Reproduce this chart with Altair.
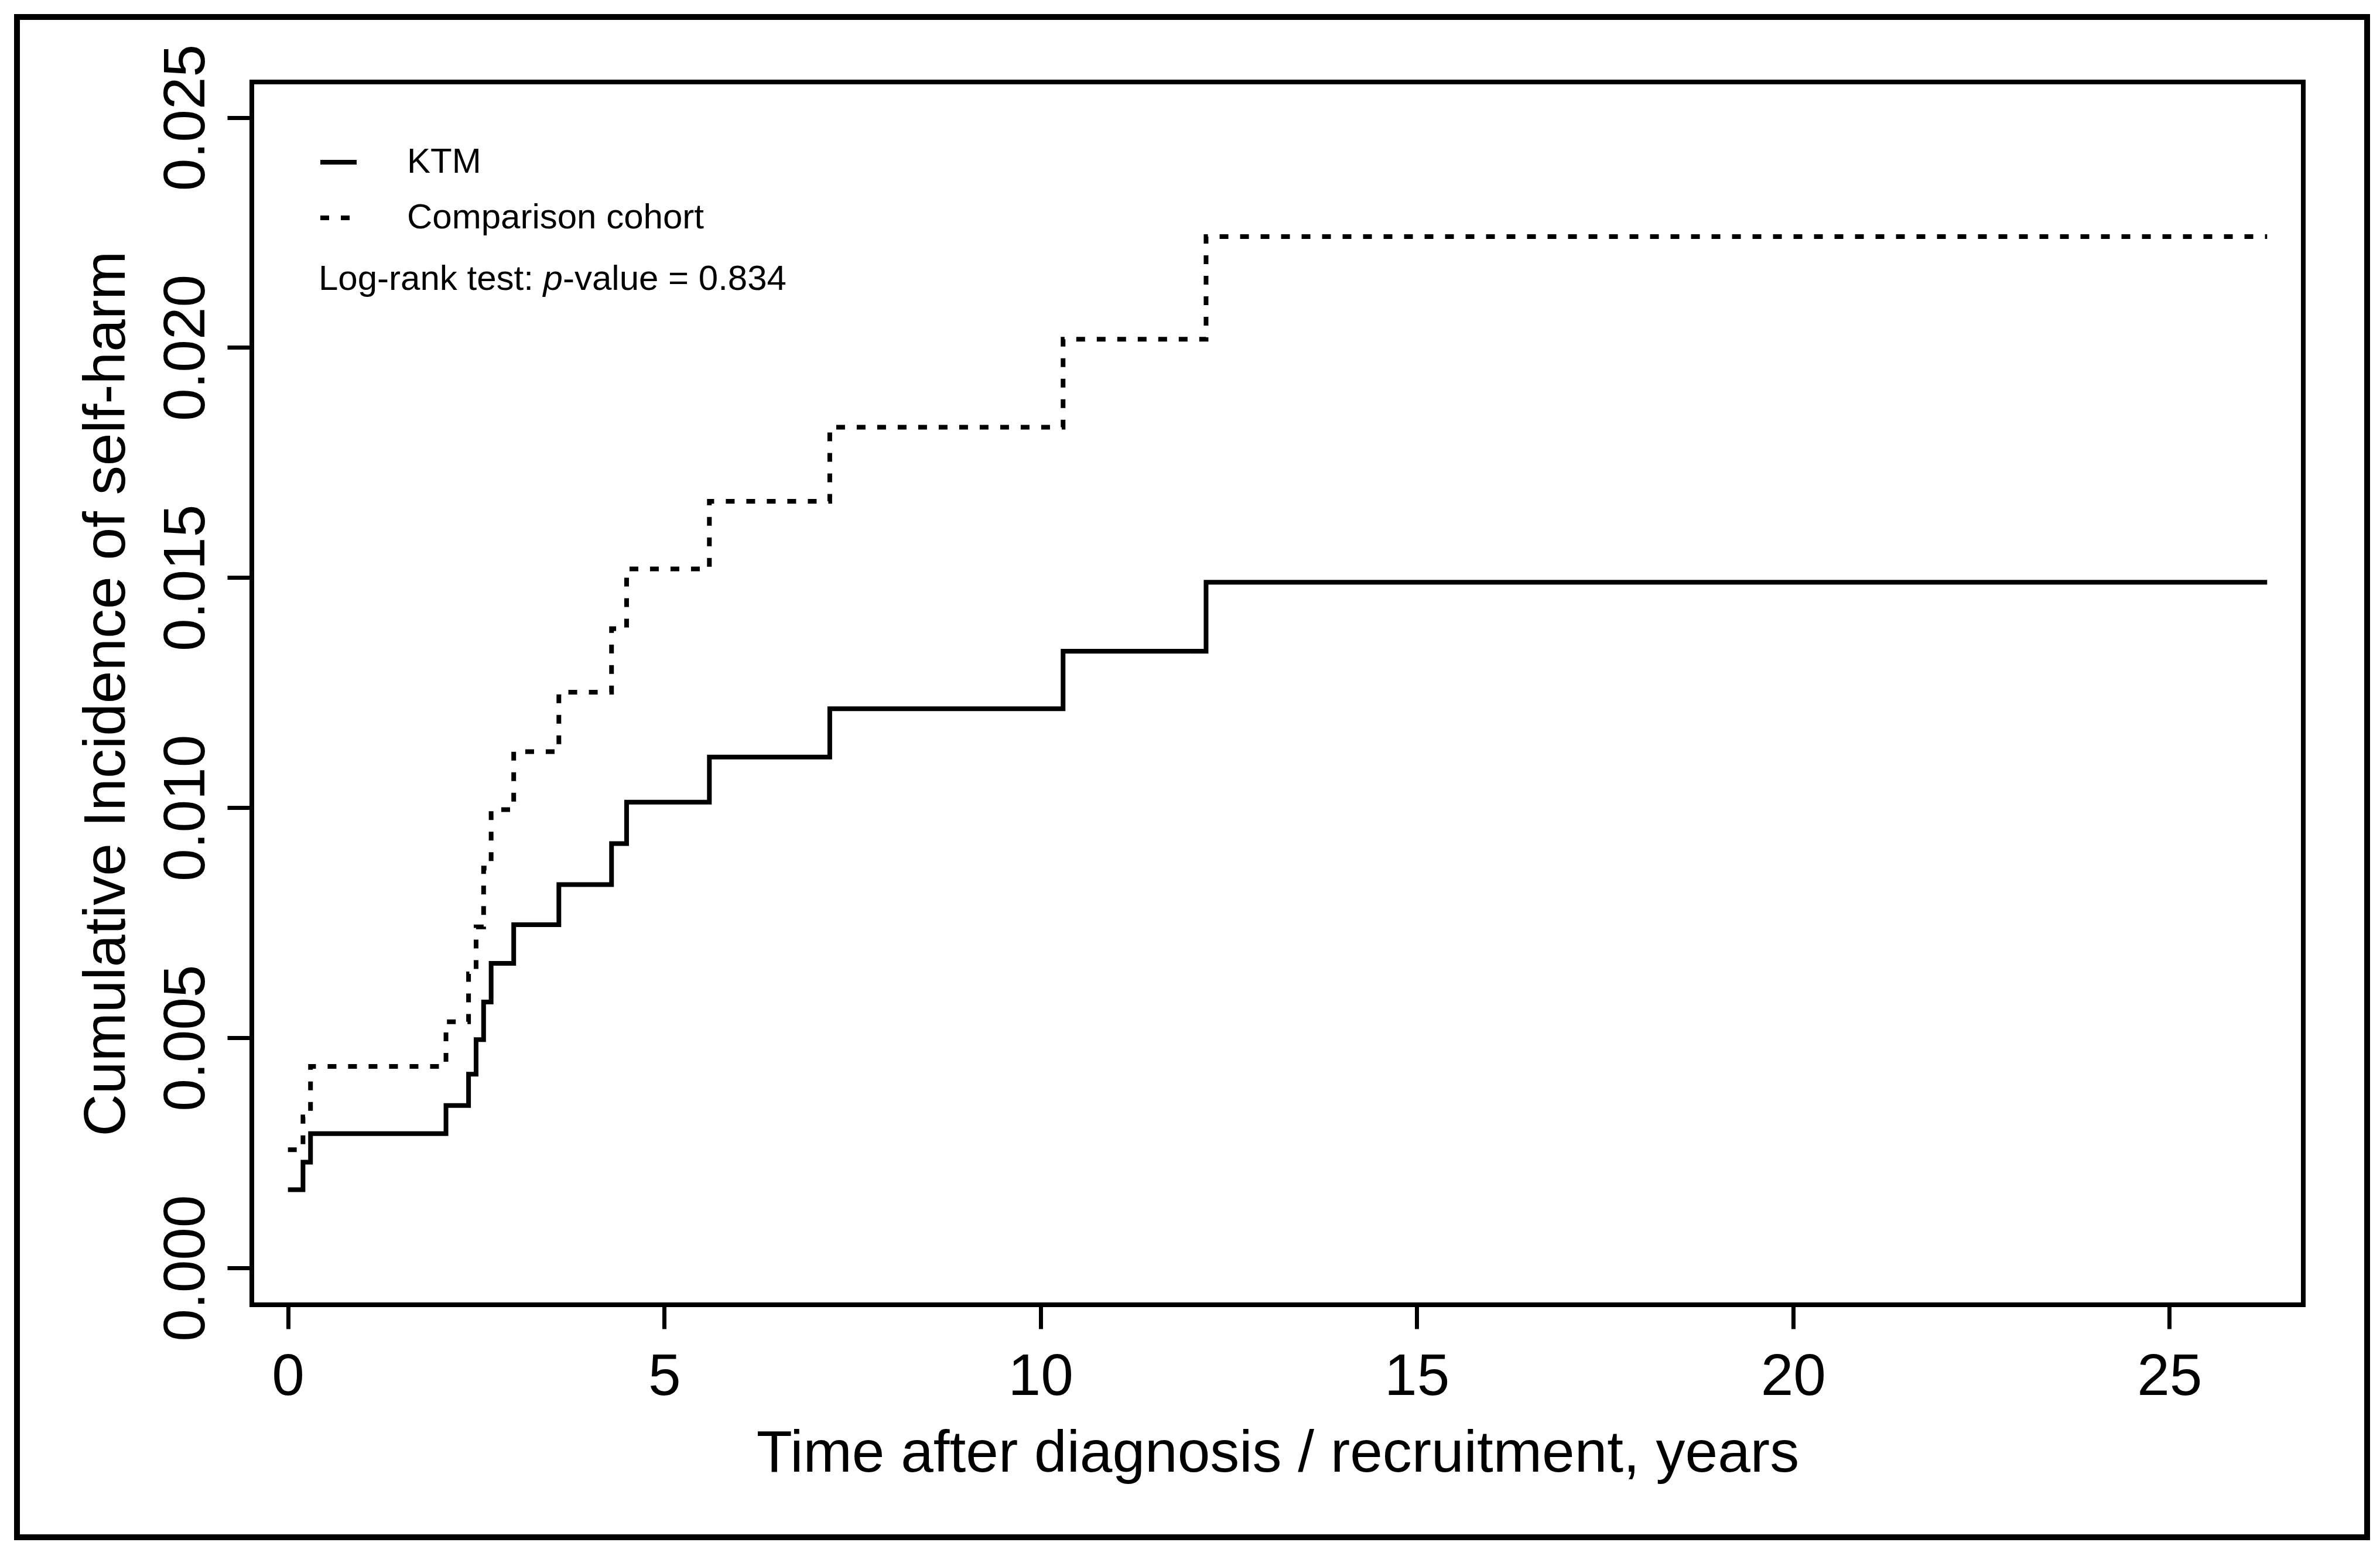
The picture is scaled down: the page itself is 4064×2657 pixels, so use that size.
import altair as alt
import pandas as pd

# ---- data ----
times = [0, 0.2, 0.3, 2.1, 2.4, 2.5, 2.6, 2.7, 3.0, 3.6, 4.3, 4.5, 5.6, 7.2, 10.3, 12.2, 26.3]
ktm = [0.00170, 0.00230, 0.00292, 0.00353, 0.00421, 0.00496, 0.00578, 0.00662,
       0.00746, 0.00833, 0.00922, 0.01012, 0.01110, 0.01215, 0.01340, 0.01490, 0.01490]
comparison = [0.00257, 0.00328, 0.00438, 0.00535, 0.00639, 0.00741, 0.00869, 0.00996,
              0.01122, 0.01251, 0.01389, 0.01519, 0.01666, 0.01827, 0.02018, 0.02241, 0.02241]
groups = ["KTM", "Comparison cohort"]
x_ticks = [0, 5, 10, 15, 20, 25]
y_ticks = [0.0, 0.005, 0.010, 0.015, 0.020, 0.025]
x_title = "Time after diagnosis / recruitment, years"
y_title = "Cumulative Incidence of self-harm"
annotation = ["Log-rank test: ", "p", "-value = 0.834"]

rows = []
for t, v in zip(times, ktm):
    rows.append({"time": t, "cuminc": v, "group": groups[0]})
for t, v in zip(times, comparison):
    rows.append({"time": t, "cuminc": v, "group": groups[1]})
df = pd.DataFrame(rows)

FONT = "Liberation Sans"
W, H = 3503, 2088

lines = alt.Chart(df).mark_line(
    interpolate="step-after", strokeWidth=8, color="black",
    strokeCap="butt", strokeJoin="miter"
).encode(
    x=alt.X("time:Q",
            scale=alt.Scale(domain=[-0.48, 26.78], nice=False, zero=False),
            axis=alt.Axis(values=x_ticks, title=x_title, format="d",
                          tickSize=41, labelPadding=112, labelBaseline="alphabetic",
                          labelFlush=False, labelOverlap=False,
                          titleX=W / 2, titleY=284, titleAlign="center",
                          titleBaseline="alphabetic", titleAngle=0)),
    y=alt.Y("cuminc:Q",
            scale=alt.Scale(domain=[-0.0008, 0.02577], nice=False, zero=False),
            axis=alt.Axis(values=y_ticks, title=y_title, format=".3f",
                          tickSize=42, labelPadding=40, labelAngle=270,
                          labelAlign="center", labelBaseline="alphabetic",
                          labelFlush=False, labelOverlap=False,
                          titleX=-218, titleY=H / 2, titleAngle=270,
                          titleAlign="center", titleBaseline="alphabetic")),
    strokeDash=alt.StrokeDash(
        "group:N",
        scale=alt.Scale(domain=groups, range=[[1, 0], [15, 20]]),
        legend=alt.Legend(title=None, orient="none", legendX=113, legendY=102,
                          direction="vertical", symbolType="stroke",
                          symbolSize=3844, symbolStrokeWidth=8,
                          symbolStrokeColor="black", labelFont=FONT,
                          labelFontSize=60, labelColor="black", labelOffset=82,
                          rowPadding=30, padding=0, labelLimit=2000)),
)

one = pd.DataFrame({"k": [0]})

frame = alt.Chart(one).mark_rect(
    fill="transparent", stroke="black", strokeWidth=10
).encode(x=alt.value(-401), x2=alt.value(3612), y=alt.value(-111), y2=alt.value(2485))

t1 = alt.Chart(one).mark_text(
    text=annotation[0], font=FONT, fontSize=60, align="left",
    baseline="alphabetic", color="black"
).encode(x=alt.value(114), y=alt.value(355))
t2 = alt.Chart(one).mark_text(
    text=annotation[1], font=FONT, fontSize=60, fontStyle="italic", align="left",
    baseline="alphabetic", color="black"
).encode(x=alt.value(497.5), y=alt.value(355))
t3 = alt.Chart(one).mark_text(
    text=annotation[2], font=FONT, fontSize=60, align="left",
    baseline="alphabetic", color="black"
).encode(x=alt.value(531), y=alt.value(355))

chart = alt.layer(frame, lines, t1, t2, t3).properties(
    width=W, height=H,
    autosize=alt.AutoSizeParams(type="none"),
    padding={"left": 422, "top": 132, "right": 120, "bottom": 420},
    background="white",
).configure_view(
    stroke="black", strokeWidth=8
).configure_axis(
    grid=False, domain=False, tickColor="black", tickWidth=7, tickCap="butt",
    labelColor="black", titleColor="black", labelFont=FONT, titleFont=FONT,
    labelFontSize=100, titleFontSize=100, titleFontWeight="normal",
    labelLimit=2000, titleLimit=4000,
)

chart.save("out.html", embed_options={"renderer": "svg", "actions": False})
